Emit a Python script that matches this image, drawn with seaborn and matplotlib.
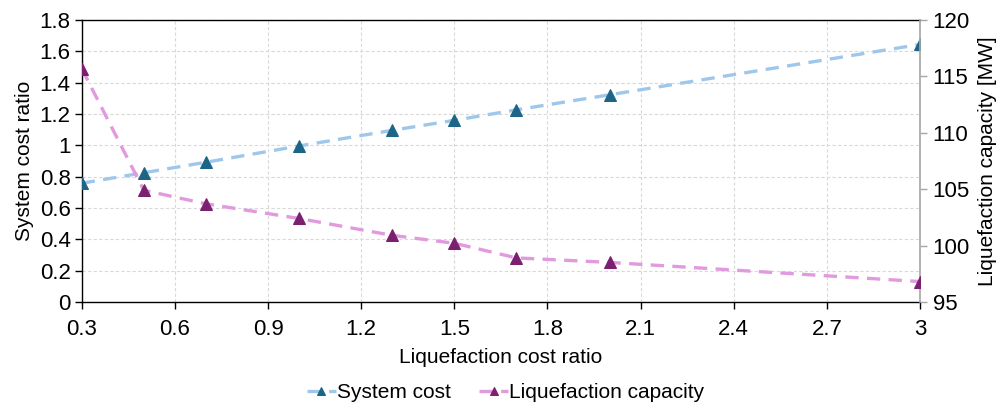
import matplotlib
matplotlib.use("Agg")
import matplotlib.pyplot as plt
from matplotlib.ticker import FuncFormatter
import numpy as np
import pandas as pd
import seaborn as sns

# Data
cost_ratio = [0.3, 0.5, 0.7, 1.0, 1.3, 1.5, 1.7, 2.0, 3.0]
system_cost = [0.758, 0.825, 0.892, 0.996, 1.096, 1.160, 1.227, 1.323, 1.645]
liq_capacity = [115.7, 104.9, 103.7, 102.4, 100.9, 100.2, 98.9, 98.5, 96.8]
x_ticks = [0.3, 0.6, 0.9, 1.2, 1.5, 1.8, 2.1, 2.4, 2.7, 3.0]
y1_ticks = [0, 0.2, 0.4, 0.6, 0.8, 1.0, 1.2, 1.4, 1.6, 1.8]
y2_ticks = [95, 100, 105, 110, 115, 120]

df = pd.DataFrame({"x": cost_ratio, "sys": system_cost, "liq": liq_capacity})

sns.set_theme(style="white")
plt.rcParams["font.family"] = ["Liberation Sans", "DejaVu Sans"]
plt.rcParams["text.color"] = "black"
plt.rcParams["axes.labelcolor"] = "black"

fig = plt.figure(figsize=(9.99, 4.03), dpi=100)
ax = fig.add_axes([0.0818, 0.251, 0.921 - 0.0818, 0.950 - 0.251])
ax2 = ax.twinx()

line_blue = "#9fc7eb"
mark_blue = "#1c6587"
line_pink = "#e29ade"
mark_purple = "#7b1f70"

sns.lineplot(data=df, x="x", y="sys", ax=ax, color=line_blue, linestyle=(0, (4, 2.5)),
             linewidth=2.4, marker="^", markersize=8.5, markerfacecolor=mark_blue,
             markeredgecolor=mark_blue, label="System cost", legend=False, zorder=3)
sns.lineplot(data=df, x="x", y="liq", ax=ax2, color=line_pink, linestyle=(0, (4, 2.5)),
             linewidth=2.4, marker="^", markersize=8.5, markerfacecolor=mark_purple,
             markeredgecolor=mark_purple, label="Liquefaction capacity", legend=False, zorder=3)

ax.set_xlim(0.3, 3.0)
ax.set_ylim(0, 1.8)
ax2.set_ylim(95, 120)
ax.set_xticks(x_ticks)
ax.set_yticks(y1_ticks)
ax2.set_yticks(y2_ticks)
fmt = FuncFormatter(lambda v, p: f"{v:g}")
ax.xaxis.set_major_formatter(fmt)
ax.yaxis.set_major_formatter(fmt)
ax2.yaxis.set_major_formatter(FuncFormatter(lambda v, p: f"{int(v)}"))

ax.grid(True, color="#d9d9d9", linestyle=(0, (3, 2)), linewidth=0.8)
ax.set_axisbelow(True)

ax.set_xlabel("Liquefaction cost ratio", fontsize=15, color="black", labelpad=6)
ax.set_ylabel("System cost ratio", fontsize=15, color="black", labelpad=4)
ax2.set_ylabel("Liquefaction capacity [MW]", fontsize=15, color="black", labelpad=6)

for a in (ax, ax2):
    for s in a.spines.values():
        s.set_visible(False)
ax.spines["left"].set_visible(True)
ax.spines["bottom"].set_visible(True)
ax.spines["top"].set_visible(True)
for k in ("left", "bottom", "top"):
    ax.spines[k].set_color("black")
    ax.spines[k].set_linewidth(1.0)
ax2.spines["right"].set_visible(True)
ax2.spines["right"].set_color("#a6a6a6")
ax2.spines["right"].set_linewidth(1.2)

ax.tick_params(axis="both", which="major", labelsize=16, colors="black",
               direction="out", length=5, width=1, left=True, bottom=True, pad=3)
ax.tick_params(axis="x", pad=7)
ax2.tick_params(axis="y", labelsize=16, labelcolor="black", direction="out", length=5,
                width=1, right=True, pad=4, color="#a6a6a6")

h1, l1 = ax.get_legend_handles_labels()
h2, l2 = ax2.get_legend_handles_labels()
fig.legend(h1 + h2, l1 + l2, loc="lower center", bbox_to_anchor=(0.506, -0.045), ncol=2,
           frameon=False, fontsize=15, handlelength=1.4, handletextpad=0.05,
           columnspacing=1.35, markerscale=0.7)

fig.savefig("out.png", dpi=100)
